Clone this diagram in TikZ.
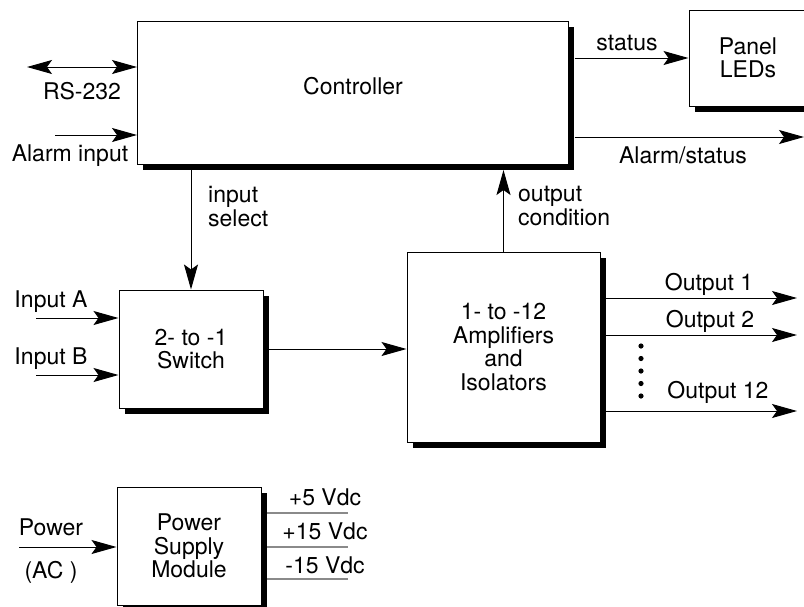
\documentclass[tikz,border=0pt]{standalone}
\usepackage{fontspec}
\setmainfont{TeX Gyre Heros}
\usepackage{xcolor}
\definecolor{pwrgray}{HTML}{8A8A8A}
\usepackage{tikz}
\usetikzlibrary{arrows.meta, positioning, shadows, calc}
\tikzset{
  blkbox/.style ={rectangle, draw=black, line width=1pt, fill=white, align=center, inner sep=2pt,
                  font=\fontsize{23}{23.5}\selectfont,
                  drop shadow={shadow xshift=5.5pt, shadow yshift=-5.5pt, fill=black, opacity=1}},
  sigarr/.style ={-{Stealth[length=25pt, width=14pt, inset=5pt]}, line width=1pt, color=black},
  sigdarr/.style={{Stealth[length=25pt, width=14pt, inset=5pt]}-{Stealth[length=25pt, width=14pt, inset=5pt]},
                  line width=1pt, color=black},
  pwrline/.style={line width=1.3pt, color=pwrgray},
  siglbl/.style ={font=\fontsize{23}{24}\selectfont, inner sep=0pt, anchor=base, align=left},
}

\begin{document}
\begin{tikzpicture}[x=1pt, y=-1pt]
  \useasboundingbox (0,0) rectangle (804,606);
  % blocks
  \node[blkbox, minimum width=431pt, minimum height=143pt, text depth=13pt] (ctrl) at (353,92.5) {Controller};
  \node[blkbox, minimum width=118pt, minimum height=96pt] (leds) at (748,58) {Panel\\LEDs};
  \node[blkbox, minimum width=144pt, minimum height=118pt] (sw) at (191,349) {2- to -1\\Switch};
  \node[blkbox, minimum width=193pt, minimum height=190pt] (amp) at (503.5,347) {1- to -12\\Amplifiers\\and\\Isolators};
  \node[blkbox, minimum width=144pt, minimum height=118pt] (psu) at (189,546) {Power\\Supply\\Module};
  % free ends
  \coordinate (rsend) at (27,67);
  \coordinate (almin) at (55,135);
  \coordinate (almout) at (804,137);
  \coordinate (inA) at (36,318);
  \coordinate (inB) at (36,375);
  \coordinate (pwrin) at (19,547);
  \foreach \n/\y in {1/298, 2/335, 12/411} \coordinate (out\n) at (797,\y);
  % signals
  \draw[sigdarr] (rsend) -- (rsend -| ctrl.west);
  \draw[sigarr] (almin) -- (almin -| ctrl.west);
  \draw[sigarr] ([xshift=5.5pt]ctrl.east |- leds.west) -- (leds.west);
  \draw[sigarr] ([xshift=5.5pt]ctrl.east |- almout) -- (almout);
  \draw[sigarr] ([yshift=-5.5pt]ctrl.south -| sw.north) -- (sw.north);
  \draw[sigarr] (amp.north) -- ([yshift=-5.5pt]ctrl.south -| amp.north);
  \draw[sigarr] (inA) -- (inA -| sw.west);
  \draw[sigarr] (inB) -- (inB -| sw.west);
  \draw[sigarr] ([xshift=5.5pt]sw.east) -- (sw.east -| amp.west);
  \foreach \n in {1,2,12} \draw[sigarr] ([xshift=5.5pt]amp.east |- out\n) -- (out\n);
  \foreach \y in {346,358.5,371,383.5,396} \fill (641,\y) circle (2.6pt);
  % power
  \draw[sigarr] (pwrin) -- (pwrin -| psu.west);
  \foreach \v/\y in {p5/513, p15/547, m15/579} {
    \coordinate (\v) at (348,\y);
    \draw[pwrline] ([xshift=5.5pt]psu.east |- \v) -- (\v);
  }
  % labels
  \node[siglbl] (lrs) at (82,99) {RS-232};
  \node[siglbl] (lalmin) at (70,161) {Alarm input};
  \node[siglbl] (lstat) at (627,50) {status};
  \node[siglbl] (lalmout) at (683,163) {Alarm/status};
  \node[siglbl, anchor=base west] (lsel) at (208,226) {input\\select};
  \node[siglbl, anchor=base west] (lcond) at (518,225) {output\\condition};
  \node[siglbl] (lA) at (51,307) {Input A};
  \node[siglbl] (lB) at (51,364) {Input B};
  \node[siglbl] (lo1) at (709,290) {Output 1};
  \node[siglbl] (lo2) at (710,327) {Output 2};
  \node[siglbl] (lo12) at (718,398) {Output 12};
  \node[siglbl] (lpwr) at (51,535) {Power};
  \node[siglbl] (lac) at (51,578) {(AC )};
  \node[siglbl] (l5) at (325,505) {+5 Vdc};
  \node[siglbl] (l15) at (325,539) {+15 Vdc};
  \node[siglbl] (lm15) at (325,573) {-15 Vdc};
\end{tikzpicture}
\end{document}
